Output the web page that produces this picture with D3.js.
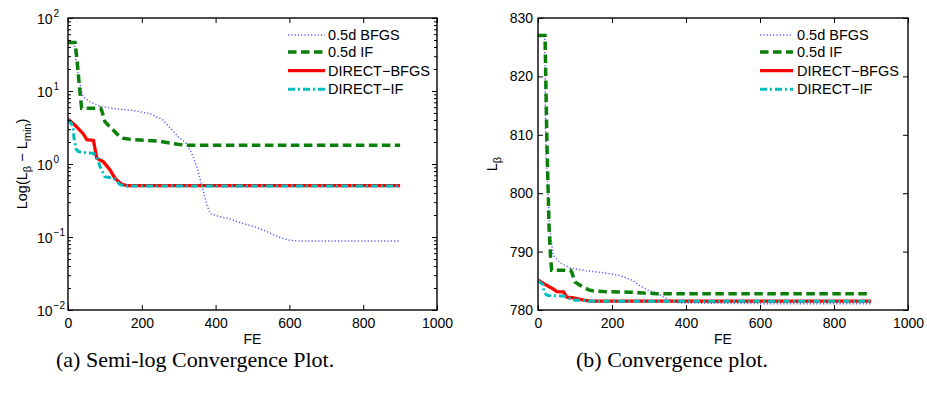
<!DOCTYPE html>
<html>
<head>
<meta charset="utf-8">
<script src="https://cdn.jsdelivr.net/npm/d3@7"></script>
<style>
  body { margin: 0; background: #fff; }
  svg { display: block; }
  text { font-family: "Liberation Sans", Arial, Helvetica, sans-serif; }
  text.caption { font-family: "Liberation Serif", "DejaVu Serif", serif; }
</style>
</head>
<body>
<svg id="fig" width="927" height="394"></svg>
<script>
// data: [FE, L_beta - L_min]
const seriesNames = ['0.5d BFGS', '0.5d IF', 'DIRECT\u2212BFGS', 'DIRECT\u2212IF']
const halfBfgs = [[0, 46], [18, 46], [21, 27], [32, 12.7], [41, 8.4], [59, 7.1], [87, 6.2], [132, 5.7],
  [177, 5.4], [222, 4.9], [258, 4.0], [272, 3.3], [286, 2.8], [300, 2.3], [318, 2.0], [335, 1.4],
  [349, 0.92], [358, 0.62], [367, 0.42], [376, 0.28], [385, 0.21], [410, 0.19], [433, 0.18],
  [470, 0.155], [506, 0.138], [540, 0.118], [570, 0.1], [597, 0.091], [620, 0.088], [900, 0.088]]
const halfIf = [[0, 46], [19, 46], [24, 28], [30, 13], [34, 8], [37, 5.8], [88, 5.8], [91, 5.5],
  [100, 3.8], [112, 3.3], [123, 2.9], [137, 2.45], [150, 2.25], [177, 2.15], [249, 2.05],
  [286, 1.9], [320, 1.8], [900, 1.8]]
const directBfgs = [[0, 4.1], [3, 4.0], [19, 3.4], [41, 2.6], [51, 2.15], [69, 2.1], [78, 1.2],
  [96, 1.07], [114, 0.83], [127, 0.64], [145, 0.53], [159, 0.505], [900, 0.505]]
const directIf = [[0, 3.9], [3, 3.9], [14, 3.3], [16, 2.3], [22, 1.6], [28, 1.48], [51, 1.42],
  [69, 1.4], [78, 1.26], [87, 0.92], [100, 0.67], [123, 0.64], [141, 0.52], [155, 0.5], [900, 0.5]]
const lMin = 781.0
const xTicks = [0, 200, 400, 600, 800, 1000]
const logTicks = [1e-2, 1e-1, 1e0, 1e1, 1e2]
const logTickExp = ['\u22122', '\u22121', '0', '1', '2']
const linTicks = [780, 790, 800, 810, 820, 830]

const allSeries = [halfBfgs, halfIf, directBfgs, directIf]
const styles = [
  { color: '#5a5aff', width: 1.5, dash: '1.2,2.1' },
  { color: '#0a800a', width: 3.5, dash: '8.5,4.5' },
  { color: '#ff0000', width: 3.3, dash: null },
  { color: '#00bfbf', width: 3, dash: '7,3,2,3' },
]

const svg = d3.select('#fig')
const plotTop = 18
const plotBottom = 310

const panels = [
  { x0: 68, x1: 437, log: true, legLine: [288, 325], legText: 328, caption: '(a) Semi-log Convergence Plot.', capX: 56 },
  { x0: 538, x1: 908, log: false, legLine: [760, 793], legText: 797, caption: '(b) Convergence plot.', capX: 576 },
]

const styleAxis = (g) => {
  g.select('.domain').remove()
  g.selectAll('line').attr('stroke', '#000').attr('stroke-width', 1)
  g.selectAll('text').attr('font-size', 14).attr('fill', '#000')
    .attr('font-family', null)
}

panels.forEach((p) => {
  const g = svg.append('g')
  const x = d3.scaleLinear().domain([0, 1000]).range([p.x0, p.x1])
  const y = p.log
    ? d3.scaleLog().domain([1e-2, 1e2]).range([plotBottom, plotTop])
    : d3.scaleLinear().domain([780, 830]).range([plotBottom, plotTop])

  // lines
  const line = d3.line()
    .x((d) => x(d[0]))
    .y((d) => y(p.log ? d[1] : lMin + d[1]))

  allSeries.forEach((s, i) => {
    g.append('path')
      .datum(s)
      .attr('d', line)
      .attr('fill', 'none')
      .attr('stroke', styles[i].color)
      .attr('stroke-width', styles[i].width)
      .attr('stroke-dasharray', styles[i].dash)
  })

  // x axes (ticks inside, box on)
  g.append('g')
    .attr('transform', `translate(0,${plotBottom})`)
    .call(d3.axisBottom(x).tickValues(xTicks).tickFormat(d3.format('d'))
      .tickSizeInner(-5).tickSizeOuter(0).tickPadding(8))
    .call(styleAxis)
  g.append('g')
    .attr('transform', `translate(0,${plotTop})`)
    .call(d3.axisTop(x).tickValues(xTicks).tickFormat('').tickSizeInner(-5).tickSizeOuter(0))
    .call(styleAxis)

  if (p.log) {
    const minors = []
    for (let e = -2; e < 2; e++) {
      for (let k = 2; k <= 9; k++) minors.push(k * Math.pow(10, e))
    }
    ;[
      [d3.axisLeft, p.x0],
      [d3.axisRight, p.x1],
    ].forEach(([ax, pos]) => {
      g.append('g').attr('transform', `translate(${pos},0)`)
        .call(ax(y).tickValues(logTicks).tickFormat('').tickSizeInner(-5).tickSizeOuter(0))
        .call(styleAxis)
      g.append('g').attr('transform', `translate(${pos},0)`)
        .call(ax(y).tickValues(minors).tickFormat('').tickSizeInner(-3).tickSizeOuter(0))
        .call(styleAxis)
    })
    const lab = g.selectAll('.logLab')
      .data(logTicks)
      .enter()
      .append('text')
      .attr('class', 'logLab')
      .attr('x', p.x0 - 31)
      .attr('y', (d) => y(d) + 6)
      .attr('font-size', 14)
      .text('10')
    lab.append('tspan')
      .attr('dy', -7)
      .attr('dx', 1)
      .attr('font-size', 10)
      .text((_, i) => logTickExp[i])

    const yl = g.append('text')
      .attr('transform', `translate(27,${(plotTop + plotBottom) / 2}) rotate(-90)`)
      .attr('text-anchor', 'middle')
      .attr('font-size', 14.5)
    yl.append('tspan').text('Log(L')
    yl.append('tspan').attr('font-size', 11).attr('dy', 4).text('\u03b2')
    yl.append('tspan').attr('dy', -4).text(' \u2212 L')
    yl.append('tspan').attr('font-size', 11).attr('dy', 4).text('min')
    yl.append('tspan').attr('dy', -4).text(')')
  } else {
    g.append('g').attr('transform', `translate(${p.x0},0)`)
      .call(d3.axisLeft(y).tickValues(linTicks).tickSizeInner(-5).tickSizeOuter(0).tickPadding(5))
      .call(styleAxis)
    g.append('g').attr('transform', `translate(${p.x1},0)`)
      .call(d3.axisRight(y).tickValues(linTicks).tickFormat('').tickSizeInner(-5).tickSizeOuter(0))
      .call(styleAxis)

    const yl = g.append('text')
      .attr('transform', `translate(497,${(plotTop + plotBottom) / 2}) rotate(-90)`)
      .attr('text-anchor', 'middle')
      .attr('font-size', 14.5)
    yl.append('tspan').text('L')
    yl.append('tspan').attr('font-size', 11).attr('dy', 4).text('\u03b2')
  }

  // box
  g.append('rect')
    .attr('x', p.x0)
    .attr('y', plotTop)
    .attr('width', p.x1 - p.x0)
    .attr('height', plotBottom - plotTop)
    .attr('fill', 'none')
    .attr('stroke', '#000')
    .attr('stroke-width', 1.4)

  g.append('text')
    .attr('x', (p.x0 + p.x1) / 2)
    .attr('y', 344)
    .attr('text-anchor', 'middle')
    .attr('font-size', 14)
    .text('FE')

  // legend (no box)
  const rowY = [35, 52, 70.7, 89.3]
  seriesNames.forEach((name, i) => {
    g.append('line')
      .attr('x1', p.legLine[0])
      .attr('x2', p.legLine[1])
      .attr('y1', rowY[i])
      .attr('y2', rowY[i])
      .attr('stroke', styles[i].color)
      .attr('stroke-width', styles[i].width)
      .attr('stroke-dasharray', styles[i].dash)
    g.append('text')
      .attr('x', p.legText)
      .attr('y', rowY[i] + 5)
      .attr('font-size', 14.5)
      .text(name)
  })

  g.append('text')
    .attr('class', 'caption')
    .attr('x', p.capX)
    .attr('y', 367)
    .attr('font-size', 22)
    .text(p.caption)
})
</script>
</body>
</html>
